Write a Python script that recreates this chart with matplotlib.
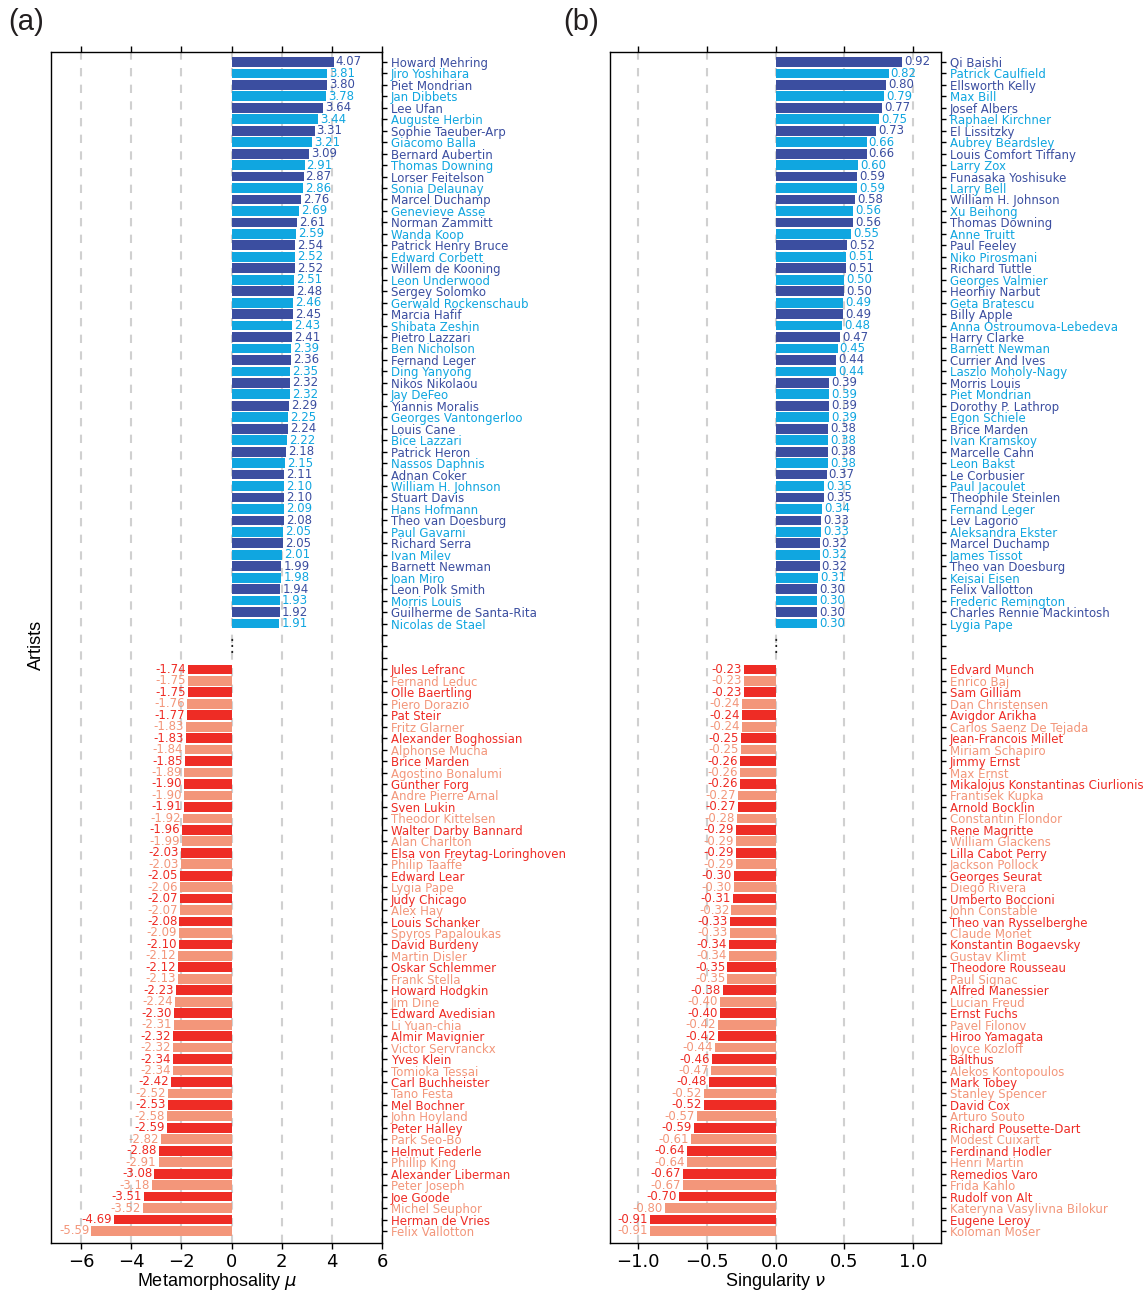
import matplotlib
matplotlib.use("Agg")
import matplotlib.pyplot as plt

# ---------------- data ----------------
mu_top_names = ["Howard Mehring", "Jiro Yoshihara", "Piet Mondrian", "Jan Dibbets", "Lee Ufan",
    "Auguste Herbin", "Sophie Taeuber-Arp", "Giacomo Balla", "Bernard Aubertin", "Thomas Downing",
    "Lorser Feitelson", "Sonia Delaunay", "Marcel Duchamp", "Genevieve Asse", "Norman Zammitt",
    "Wanda Koop", "Patrick Henry Bruce", "Edward Corbett", "Willem de Kooning", "Leon Underwood",
    "Sergey Solomko", "Gerwald Rockenschaub", "Marcia Hafif", "Shibata Zeshin", "Pietro Lazzari",
    "Ben Nicholson", "Fernand Leger", "Ding Yanyong", "Nikos Nikolaou", "Jay DeFeo",
    "Yiannis Moralis", "Georges Vantongerloo", "Louis Cane", "Bice Lazzari", "Patrick Heron",
    "Nassos Daphnis", "Adnan Coker", "William H. Johnson", "Stuart Davis", "Hans Hofmann",
    "Theo van Doesburg", "Paul Gavarni", "Richard Serra", "Ivan Milev", "Barnett Newman",
    "Joan Miro", "Leon Polk Smith", "Morris Louis", "Guilherme de Santa-Rita", "Nicolas de Stael"]
mu_top_vals = [4.07, 3.81, 3.80, 3.78, 3.64, 3.44, 3.31, 3.21, 3.09, 2.91,
    2.87, 2.86, 2.76, 2.69, 2.61, 2.59, 2.54, 2.52, 2.52, 2.51,
    2.48, 2.46, 2.45, 2.43, 2.41, 2.39, 2.36, 2.35, 2.32, 2.32,
    2.29, 2.25, 2.24, 2.22, 2.18, 2.15, 2.11, 2.10, 2.10, 2.09,
    2.08, 2.05, 2.05, 2.01, 1.99, 1.98, 1.94, 1.93, 1.92, 1.91]

mu_bot_names = ["Jules Lefranc", "Fernand Leduc", "Olle Baertling", "Piero Dorazio", "Pat Steir",
    "Fritz Glarner", "Alexander Boghossian", "Alphonse Mucha", "Brice Marden", "Agostino Bonalumi",
    "Gunther Forg", "Andre Pierre Arnal", "Sven Lukin", "Theodor Kittelsen", "Walter Darby Bannard",
    "Alan Charlton", "Elsa von Freytag-Loringhoven", "Philip Taaffe", "Edward Lear", "Lygia Pape",
    "Judy Chicago", "Alex Hay", "Louis Schanker", "Spyros Papaloukas", "David Burdeny",
    "Martin Disler", "Oskar Schlemmer", "Frank Stella", "Howard Hodgkin", "Jim Dine",
    "Edward Avedisian", "Li Yuan-chia", "Almir Mavignier", "Victor Servranckx", "Yves Klein",
    "Tomioka Tessai", "Carl Buchheister", "Tano Festa", "Mel Bochner", "John Hoyland",
    "Peter Halley", "Park Seo-Bo", "Helmut Federle", "Phillip King", "Alexander Liberman",
    "Peter Joseph", "Joe Goode", "Michel Seuphor", "Herman de Vries", "Felix Vallotton"]
mu_bot_vals = [-1.74, -1.75, -1.75, -1.76, -1.77, -1.83, -1.83, -1.84, -1.85, -1.89,
    -1.90, -1.90, -1.91, -1.92, -1.96, -1.99, -2.03, -2.03, -2.05, -2.06,
    -2.07, -2.07, -2.08, -2.09, -2.10, -2.12, -2.12, -2.13, -2.23, -2.24,
    -2.30, -2.31, -2.32, -2.32, -2.34, -2.34, -2.42, -2.52, -2.53, -2.58,
    -2.59, -2.82, -2.88, -2.91, -3.08, -3.18, -3.51, -3.52, -4.69, -5.59]

nu_top_names = ["Qi Baishi", "Patrick Caulfield", "Ellsworth Kelly", "Max Bill", "Josef Albers",
    "Raphael Kirchner", "El Lissitzky", "Aubrey Beardsley", "Louis Comfort Tiffany", "Larry Zox",
    "Funasaka Yoshisuke", "Larry Bell", "William H. Johnson", "Xu Beihong", "Thomas Downing",
    "Anne Truitt", "Paul Feeley", "Niko Pirosmani", "Richard Tuttle", "Georges Valmier",
    "Heorhiy Narbut", "Geta Bratescu", "Billy Apple", "Anna Ostroumova-Lebedeva", "Harry Clarke",
    "Barnett Newman", "Currier And Ives", "Laszlo Moholy-Nagy", "Morris Louis", "Piet Mondrian",
    "Dorothy P. Lathrop", "Egon Schiele", "Brice Marden", "Ivan Kramskoy", "Marcelle Cahn",
    "Leon Bakst", "Le Corbusier", "Paul Jacoulet", "Theophile Steinlen", "Fernand Leger",
    "Lev Lagorio", "Aleksandra Ekster", "Marcel Duchamp", "James Tissot", "Theo van Doesburg",
    "Keisai Eisen", "Felix Vallotton", "Frederic Remington", "Charles Rennie Mackintosh", "Lygia Pape"]
nu_top_vals = [0.92, 0.82, 0.80, 0.79, 0.77, 0.75, 0.73, 0.66, 0.66, 0.60,
    0.59, 0.59, 0.58, 0.56, 0.56, 0.55, 0.52, 0.51, 0.51, 0.50,
    0.50, 0.49, 0.49, 0.48, 0.47, 0.45, 0.44, 0.44, 0.39, 0.39,
    0.39, 0.39, 0.38, 0.38, 0.38, 0.38, 0.37, 0.35, 0.35, 0.34,
    0.33, 0.33, 0.32, 0.32, 0.32, 0.31, 0.30, 0.30, 0.30, 0.30]

nu_bot_names = ["Edvard Munch", "Enrico Baj", "Sam Gilliam", "Dan Christensen", "Avigdor Arikha",
    "Carlos Saenz De Tejada", "Jean-Francois Millet", "Miriam Schapiro", "Jimmy Ernst", "Max Ernst",
    "Mikalojus Konstantinas Ciurlionis", "Frantisek Kupka", "Arnold Bocklin", "Constantin Flondor",
    "Rene Magritte", "William Glackens", "Lilla Cabot Perry", "Jackson Pollock", "Georges Seurat",
    "Diego Rivera", "Umberto Boccioni", "John Constable", "Theo van Rysselberghe", "Claude Monet",
    "Konstantin Bogaevsky", "Gustav Klimt", "Theodore Rousseau", "Paul Signac", "Alfred Manessier",
    "Lucian Freud", "Ernst Fuchs", "Pavel Filonov", "Hiroo Yamagata", "Joyce Kozloff", "Balthus",
    "Alekos Kontopoulos", "Mark Tobey", "Stanley Spencer", "David Cox", "Arturo Souto",
    "Richard Pousette-Dart", "Modest Cuixart", "Ferdinand Hodler", "Henri Martin", "Remedios Varo",
    "Frida Kahlo", "Rudolf von Alt", "Kateryna Vasylivna Bilokur", "Eugene Leroy", "Koloman Moser"]
nu_bot_vals = [-0.23, -0.23, -0.23, -0.24, -0.24, -0.24, -0.25, -0.25, -0.26, -0.26,
    -0.26, -0.27, -0.27, -0.28, -0.29, -0.29, -0.29, -0.29, -0.30, -0.30,
    -0.31, -0.32, -0.33, -0.33, -0.34, -0.34, -0.35, -0.35, -0.38, -0.40,
    -0.40, -0.42, -0.42, -0.44, -0.46, -0.47, -0.48, -0.52, -0.52, -0.57,
    -0.59, -0.61, -0.64, -0.64, -0.67, -0.67, -0.70, -0.80, -0.91, -0.91]

mu_ticks = [-6, -4, -2, 0, 2, 4, 6]
mu_ticklabels = ["\u22126", "\u22124", "\u22122", "0", "2", "4", "6"]
nu_ticks = [-1.0, -0.5, 0.0, 0.5, 1.0]
nu_ticklabels = ["\u22121.0", "\u22120.5", "0.0", "0.5", "1.0"]

# ---------------- style ----------------
DARK_BLUE = "#3b4ea0"
LIGHT_BLUE = "#10a6e0"
RED = "#ee2c25"
SALMON = "#f3967a"
GAP = 3

fig = plt.figure(figsize=(11.46, 12.94), dpi=100)
axw = 331 / 1146
axb = 1 - 1243 / 1294
axh = (1243 - 52) / 1294
ax1 = fig.add_axes([51 / 1146, axb, axw, axh])
ax2 = fig.add_axes([610 / 1146, axb, axw, axh])


def panel(ax, tn, tv, bn, bv, xlim, xticks, xticklabels, xlabel):
    n1 = len(tn)
    labels = []
    colors = []
    for i, (n, v) in enumerate(zip(tn, tv)):
        c = DARK_BLUE if i % 2 == 0 else LIGHT_BLUE
        ax.barh(i, v, height=0.85, color=c, zorder=2)
        ax.annotate(f"{v:.2f}", xy=(v, i), xytext=(1.5, 0), textcoords="offset points",
                    ha="left", va="center", color=c, fontsize=8.5, zorder=3)
        labels.append(n)
        colors.append(c)
    for k in range(GAP):
        labels.append("")
        colors.append("black")
    for j, (n, v) in enumerate(zip(bn, bv)):
        pos = n1 + GAP + j
        c = RED if j % 2 == 0 else SALMON
        ax.barh(pos, v, height=0.85, color=c, zorder=2)
        ax.annotate(f"{v:.2f}", xy=(v, pos), xytext=(-1.5, 0), textcoords="offset points",
                    ha="right", va="center", color=c, fontsize=8.5, zorder=3)
        labels.append(n)
        colors.append(c)
    total = len(labels)
    ax.text(0, n1 + 1, "\u22ee", ha="center", va="center", fontsize=12, color="#222222",
            family="DejaVu Sans", zorder=3)
    ax.set_ylim(total - 1 + 1.05, -0.87)
    ax.set_xlim(*xlim)
    ax.yaxis.tick_right()
    ax.set_yticks(range(total))
    ax.set_yticklabels(labels, fontsize=8.5)
    for tl, c in zip(ax.get_yticklabels(), colors):
        tl.set_color(c)
    ax.tick_params(axis="y", direction="out", length=3.5, width=1, pad=3)
    ax.set_xticks(xticks)
    ax.set_xticklabels(xticklabels)
    ax.tick_params(axis="x", direction="out", top=True, labeltop=False, length=4, width=1,
                   labelsize=13, pad=3)
    ax.grid(axis="x", color="#d0d0d0", linestyle=(0, (4, 4)), linewidth=1.5, zorder=0)
    ax.set_axisbelow(True)
    for s in ax.spines.values():
        s.set_linewidth(1.0)
        s.set_zorder(4)
    ax.set_xlabel(xlabel, fontsize=13, family="Liberation Sans", labelpad=0)


panel(ax1, mu_top_names, mu_top_vals, mu_bot_names, mu_bot_vals, (-7.2, 6),
      mu_ticks, mu_ticklabels, r"Metamorphosality $\mu$")
panel(ax2, nu_top_names, nu_top_vals, nu_bot_names, nu_bot_vals, (-1.2, 1.2),
      nu_ticks, nu_ticklabels, r"Singularity $\nu$")

fig.text(36 / 1146, 1 - 645 / 1294, "Artists", rotation=90, ha="center", va="center",
         fontsize=13, family="Liberation Sans")
fig.text(8 / 1146, 1 - 22 / 1294, "(a)", ha="left", va="center", fontsize=21,
         family="Liberation Sans", color="#231f20")
fig.text(563 / 1146, 1 - 22 / 1294, "(b)", ha="left", va="center", fontsize=21,
         family="Liberation Sans", color="#231f20")

fig.savefig("out.png", dpi=100)
